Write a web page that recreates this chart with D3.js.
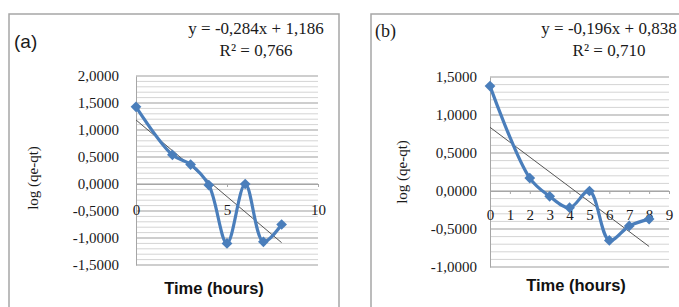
<!DOCTYPE html>
<html>
<head>
<meta charset="utf-8">
<script src="https://cdn.jsdelivr.net/npm/d3@7/dist/d3.min.js"></script>
<style>
  html, body { margin: 0; padding: 0; background: #fff; }
  svg { display: block; }
</style>
</head>
<body>
<svg id="chart" width="679" height="307"></svg>
<script>
// ---------- data ----------
const timeA = [0, 2, 3, 4, 5, 6, 7, 8];
const logA  = [1.43, 0.54, 0.36, -0.02, -1.10, 0.00, -1.07, -0.75];
const trendA = { slope: -0.284, intercept: 1.186, x0: 0, x1: 8 };
const eqA = "y = -0,284x + 1,186";
const r2A = "R² = 0,766";
const yTicksA = [2, 1.5, 1, 0.5, 0, -0.5, -1, -1.5];
const xTicksA = [0, 5, 10];

const timeB = [0, 2, 3, 4, 5, 6, 7, 8];
const logB  = [1.38, 0.17, -0.07, -0.22, 0.00, -0.65, -0.46, -0.37];
const trendB = { slope: -0.196, intercept: 0.838, x0: 0, x1: 8 };
const eqB = "y = -0,196x + 0,838";
const r2B = "R² = 0,710";
const yTicksB = [1.5, 1, 0.5, 0, -0.5, -1];
const xTicksB = [0, 1, 2, 3, 4, 5, 6, 7, 8, 9];

const xTitle = "Time (hours)";
const yTitle = "log (qe-qt)";

// ---------- drawing ----------
const svg = d3.select("#chart");
const locale = d3.formatLocale({ decimal: ",", thousands: ".", grouping: [3], currency: ["", ""], minus: "-" });
const fmt4 = locale.format(".4f");

const serif = "'Liberation Serif', 'Times New Roman', serif";
const sans = "'Liberation Sans', Arial, sans-serif";
const blue = "#4a7ebb";
const ink = "#1a1a1a";

function panel(cfg) {
  const g = svg.append("g");
  // frame
  g.append("rect")
    .attr("x", cfg.frame[0]).attr("y", cfg.frame[1])
    .attr("width", cfg.frame[2]).attr("height", cfg.frame[3])
    .attr("fill", "#fff").attr("stroke", "#a6a6a6").attr("stroke-width", 1.5);

  const x = d3.scaleLinear().domain(cfg.xDomain).range(cfg.xRange);
  const y = d3.scaleLinear().domain(cfg.yDomain).range(cfg.yRange);

  // minor gridlines
  g.append("g").selectAll("line").data(y.ticks(cfg.minorCount)).join("line")
    .attr("x1", cfg.xRange[0]).attr("x2", cfg.xRange[1])
    .attr("y1", d => y(d)).attr("y2", d => y(d))
    .attr("stroke", "#d4d4d4").attr("stroke-width", 1);
  // major gridlines
  g.append("g").selectAll("line").data(cfg.yTicks).join("line")
    .attr("x1", cfg.xRange[0]).attr("x2", cfg.xRange[1])
    .attr("y1", d => y(d)).attr("y2", d => y(d))
    .attr("stroke", "#b3b3b3").attr("stroke-width", 1);

  // y axis
  const ya = g.append("g").attr("transform", `translate(${cfg.xRange[0]},0)`)
    .call(d3.axisLeft(y).tickValues(cfg.yTicks).tickFormat(fmt4).tickSize(0).tickPadding(cfg.yPad));
  ya.select(".domain").attr("stroke", "#a6a6a6");
  ya.selectAll("text").attr("font-family", serif).attr("font-size", cfg.tickFont).attr("fill", ink);

  // x axis at y = 0
  const xa = g.append("g").attr("transform", `translate(0,${y(0)})`)
    .call(d3.axisBottom(x).tickValues(cfg.xTicks).tickFormat(d3.format("d")).tickSizeInner(3).tickSizeOuter(0).tickPadding(cfg.xPad));
  xa.select(".domain").attr("stroke", "#a6a6a6");
  xa.selectAll(".tick line").attr("stroke", "#a6a6a6");
  xa.selectAll("text").attr("font-family", serif).attr("font-size", cfg.tickFont).attr("fill", ink);

  // trendline
  g.append("line")
    .attr("x1", x(cfg.trend.x0)).attr("y1", y(cfg.trend.slope * cfg.trend.x0 + cfg.trend.intercept))
    .attr("x2", x(cfg.trend.x1)).attr("y2", y(cfg.trend.slope * cfg.trend.x1 + cfg.trend.intercept))
    .attr("stroke", "#555").attr("stroke-width", 1);

  const pts = cfg.xs.map((d, i) => [d, cfg.ys[i]]);
  // smoothed series
  g.append("path").datum(pts)
    .attr("d", d3.line().x(d => x(d[0])).y(d => y(d[1])).curve(d3.curveCatmullRom.alpha(0.5)))
    .attr("fill", "none").attr("stroke", blue).attr("stroke-width", 3.2).attr("stroke-linejoin", "round");
  // diamond markers
  g.append("g").selectAll("path").data(pts).join("path")
    .attr("transform", d => `translate(${x(d[0])},${y(d[1])}) rotate(45)`)
    .attr("d", "M-3.8,-3.8H3.8V3.8H-3.8Z")
    .attr("fill", blue);

  // titles
  g.append("text").attr("x", cfg.xTitlePos[0]).attr("y", cfg.xTitlePos[1])
    .attr("text-anchor", "middle").attr("dominant-baseline", "central")
    .attr("font-family", sans).attr("font-weight", "bold").attr("font-size", 16.5).attr("fill", "#111")
    .text(xTitle);
  g.append("text")
    .attr("transform", `translate(${cfg.yTitlePos[0]},${cfg.yTitlePos[1]}) rotate(-90)`)
    .attr("text-anchor", "middle").attr("dominant-baseline", "central")
    .attr("font-family", serif).attr("font-size", 15).attr("fill", ink)
    .text(yTitle);

  // panel label
  g.append("text").attr("x", cfg.labelPos[0]).attr("y", cfg.labelPos[1])
    .attr("dominant-baseline", "central")
    .attr("font-family", cfg.labelFont).attr("font-size", cfg.labelSize).attr("fill", ink)
    .text(cfg.label);

  // equation
  g.append("text").attr("x", cfg.eqPos[0]).attr("y", cfg.eqPos[1])
    .attr("text-anchor", "middle").attr("dominant-baseline", "central")
    .attr("font-family", serif).attr("font-size", 17).attr("fill", ink)
    .text(cfg.eq);
  g.append("text").attr("x", cfg.eqPos[0]).attr("y", cfg.eqPos[1] + 22)
    .attr("text-anchor", "middle").attr("dominant-baseline", "central")
    .attr("font-family", serif).attr("font-size", 17).attr("fill", ink)
    .text(cfg.r2);
}

panel({
  frame: [9, 14, 330, 310],
  xDomain: [0, 10], xRange: [136, 318],
  yDomain: [-1.5, 2], yRange: [265, 76],
  minorCount: 35, yTicks: yTicksA, xTicks: xTicksA, yPad: 17, xPad: 17, tickFont: 15,
  trend: trendA, xs: timeA, ys: logA,
  xTitlePos: [214, 288], yTitlePos: [33, 178],
  label: "(a)", labelFont: sans, labelSize: 19, labelPos: [14, 41],
  eq: eqA, r2: r2A, eqPos: [256, 28]
});

panel({
  frame: [371, 14, 320, 310],
  xDomain: [0, 9], xRange: [490, 669],
  yDomain: [-1, 1.5], yRange: [267, 77],
  minorCount: 25, yTicks: yTicksB, xTicks: xTicksB, yPad: 13, xPad: 15, tickFont: 15,
  trend: trendB, xs: timeB, ys: logB,
  xTitlePos: [576, 285], yTitlePos: [402, 172],
  label: "(b)", labelFont: serif, labelSize: 18, labelPos: [375, 31],
  eq: eqB, r2: r2B, eqPos: [609, 28]
});
</script>
</body>
</html>
